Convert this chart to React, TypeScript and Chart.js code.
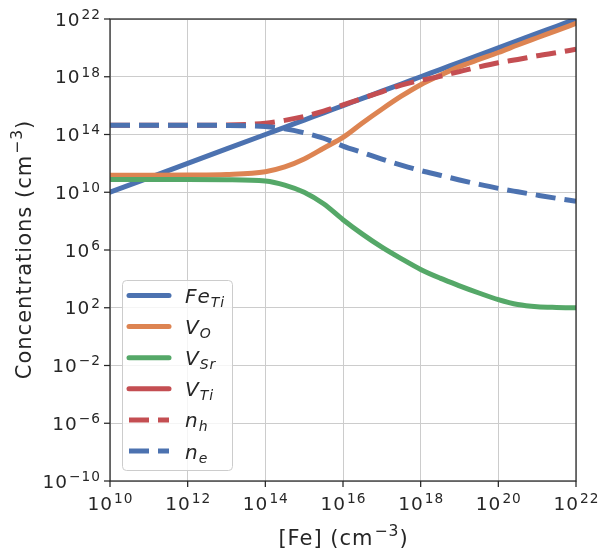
import React, { useEffect, useRef } from "react";
import { Chart, registerables } from "chart.js";

Chart.register(...registerables);

// Fe doping level (cm^-3)
const FE_CONC = [
  1e10, 1e11, 1e12, 1e13, 1e14, 3.16e14, 1e15, 3.16e15, 1e16, 3.16e16, 1e17,
  3.16e17, 1e18, 3.16e18, 1e19, 3.16e19, 1e20, 3.16e20, 1e21, 3.16e21, 1e22,
];

// Defect and carrier concentrations (cm^-3) at each doping level
const FE_TI = [
  1e10, 1e11, 1e12, 1e13, 1e14, 3.16e14, 1e15, 3.16e15, 1e16, 3.16e16, 1e17,
  3.16e17, 1e18, 3.16e18, 1e19, 3.16e19, 1e20, 3.16e20, 1e21, 3.16e21, 1e22,
];
const V_O = [
  1.51e11, 1.51e11, 1.55e11, 1.7e11, 2.63e11, 5.62e11, 2.0e12, 1.12e13, 6.31e13,
  6.31e14, 5.62e15, 4.47e16, 2.82e17, 1.26e18, 5.01e18, 1.58e19, 4.79e19,
  1.58e20, 5.01e20, 1.58e21, 5.01e21,
];
const V_SR = [
  7.59e10, 7.59e10, 7.59e10, 7.41e10, 6.03e10, 3.16e10, 1.0e10, 1.58e9, 1.26e8,
  1.26e7, 1.58e6, 2.51e5, 4.47e4, 1.12e4, 3.31e3, 1.05e3, 3.63e2, 1.66e2, 1.17e2,
  1.05e2, 1.0e2,
];
const V_TI = [
  3.16e-14, 3.16e-14, 3.16e-14, 3.16e-14, 3.16e-14, 1.26e-14, 1e-15, 3.16e-17,
  6.31e-19, 1e-20, 1.58e-22, 2.0e-24, 5.01e-26, 2.51e-27, 1.58e-28, 1.26e-29,
  1e-30, 1.26e-31, 1.26e-32, 1.58e-33, 2.0e-34,
];
const N_H = [
  4.37e14, 4.37e14, 4.37e14, 4.47e14, 6.03e14, 9.55e14, 1.78e15, 4.17e15,
  1.12e16, 3.16e16, 9.12e16, 2.63e17, 5.62e17, 1.07e18, 2.29e18, 4.79e18,
  9.33e18, 1.58e19, 2.82e19, 4.68e19, 7.94e19,
];
const N_E = [
  4.37e14, 4.37e14, 4.37e14, 4.27e14, 3.55e14, 2.51e14, 1.32e14, 5.5e13,
  1.58e13, 5.62e12, 2.0e12, 7.59e11, 3.16e11, 1.51e11, 7.08e10, 3.55e10,
  1.86e10, 1.07e10, 6.31e9, 3.8e9, 2.4e9,
];

// Axis ranges and decade tick positions (as powers of ten)
const X_MIN = 1e10;
const X_MAX = 1e22;
const Y_MIN = 1e-10;
const Y_MAX = 1e22;
const X_TICK_EXPONENTS = [10, 12, 14, 16, 18, 20, 22];
const Y_TICK_EXPONENTS = [-10, -6, -2, 2, 6, 10, 14, 18, 22];

type Series = {
  main: string;
  sub: string;
  values: number[];
  color: string;
  dashed: boolean;
};

const SERIES: Series[] = [
  { main: "Fe", sub: "Ti", values: FE_TI, color: "#4C72B0", dashed: false },
  { main: "V", sub: "O", values: V_O, color: "#DD8452", dashed: false },
  { main: "V", sub: "Sr", values: V_SR, color: "#55A868", dashed: false },
  { main: "V", sub: "Ti", values: V_TI, color: "#C44E52", dashed: false },
  { main: "n", sub: "h", values: N_H, color: "#C44E52", dashed: true },
  { main: "n", sub: "e", values: N_E, color: "#4C72B0", dashed: true },
];

const INK = "#262626";
const FONT = "'DejaVu Sans'";
const TICK_SIZE = 18.5;
const TITLE_SIZE = 21;
const LEGEND_SIZE = 20;
const SPACING = 1;
const SUP_RATIO = 0.74;
const LINE_W = 5;
const DASH = [20, 9];

type Part = { text: string; sup?: boolean };

function setFont(ctx: CanvasRenderingContext2D, size: number, italic = false) {
  ctx.font = `${italic ? "italic " : ""}${size}px ${FONT}`;
  (ctx as any).letterSpacing = `${SPACING}px`;
}

function measureParts(ctx: CanvasRenderingContext2D, parts: Part[], size: number) {
  let w = 0;
  for (const p of parts) {
    setFont(ctx, p.sup ? size * SUP_RATIO : size);
    w += ctx.measureText(p.text).width + (p.sup ? 1 : 0);
  }
  return w - SPACING;
}

function drawParts(
  ctx: CanvasRenderingContext2D,
  parts: Part[],
  x: number,
  y: number,
  size: number,
  align: "center" | "right",
  raise: number
) {
  const total = measureParts(ctx, parts, size);
  let cx = align === "center" ? x - total / 2 : x - total;
  ctx.textAlign = "left";
  ctx.textBaseline = "alphabetic";
  for (const p of parts) {
    setFont(ctx, p.sup ? size * SUP_RATIO : size);
    if (p.sup) cx += 1;
    ctx.fillText(p.text, cx, p.sup ? y - size * raise : y);
    cx += ctx.measureText(p.text).width;
  }
}

function powerParts(exp: number): Part[] {
  const e = exp < 0 ? "\u2212" + Math.abs(exp) : String(exp);
  return [{ text: "10" }, { text: e, sup: true }];
}

// Frame, ticks, tick labels, axis titles and legend drawn over the plot
const decorPlugin = {
  id: "decor",
  afterDraw(chart: Chart) {
    const ctx = chart.ctx;
    const area = chart.chartArea;
    const xs = chart.scales.x;
    const ys = chart.scales.y;
    ctx.save();

    // axes frame
    ctx.strokeStyle = INK;
    ctx.lineWidth = 1.25;
    ctx.strokeRect(area.left, area.top, area.right - area.left, area.bottom - area.top);

    // tick marks and labels
    ctx.fillStyle = INK;
    for (const e of X_TICK_EXPONENTS) {
      const px = xs.getPixelForValue(Math.pow(10, e));
      ctx.beginPath();
      ctx.moveTo(px, area.bottom);
      ctx.lineTo(px, area.bottom + 6);
      ctx.stroke();
      drawParts(ctx, powerParts(e), px, area.bottom + 29, TICK_SIZE, "center", 0.37);
    }
    for (const e of Y_TICK_EXPONENTS) {
      const py = ys.getPixelForValue(Math.pow(10, e));
      ctx.beginPath();
      ctx.moveTo(area.left - 6, py);
      ctx.lineTo(area.left, py);
      ctx.stroke();
      drawParts(ctx, powerParts(e), area.left - 10, py + TICK_SIZE * 0.36, TICK_SIZE, "right", 0.37);
    }

    // axis titles
    const xTitle: Part[] = [{ text: "[Fe] (cm" }, { text: "\u22123", sup: true }, { text: ")" }];
    drawParts(ctx, xTitle, (area.left + area.right) / 2, 545, TITLE_SIZE, "center", 0.45);
    const yTitle: Part[] = [
      { text: "Concentrations (cm" },
      { text: "\u22123", sup: true },
      { text: ")" },
    ];
    ctx.save();
    ctx.translate(31, (area.top + area.bottom) / 2);
    ctx.rotate(-Math.PI / 2);
    drawParts(ctx, yTitle, 0, 0, TITLE_SIZE, "center", 0.45);
    ctx.restore();

    // legend
    const bx = 122;
    const by = 280;
    const bw = 110;
    const bh = 190;
    ctx.beginPath();
    ctx.roundRect(bx + 0.5, by + 0.5, bw, bh, 4);
    ctx.fillStyle = "rgba(255,255,255,0.8)";
    ctx.fill();
    ctx.strokeStyle = "#cccccc";
    ctx.lineWidth = 1;
    ctx.stroke();

    SERIES.forEach((s, i) => {
      const cy = 295.5 + i * 31.1;
      ctx.beginPath();
      ctx.strokeStyle = s.color;
      ctx.lineWidth = LINE_W;
      if (s.dashed) {
        ctx.setLineDash(DASH);
        ctx.lineCap = "butt";
      } else {
        ctx.setLineDash([]);
        ctx.lineCap = "round";
      }
      ctx.moveTo(129, cy);
      ctx.lineTo(169, cy);
      ctx.stroke();
      ctx.setLineDash([]);

      ctx.fillStyle = INK;
      ctx.textAlign = "left";
      ctx.textBaseline = "alphabetic";
      setFont(ctx, LEGEND_SIZE, true);
      const base = cy + 7.5;
      ctx.fillText(s.main, 185, base);
      const mw = ctx.measureText(s.main).width;
      setFont(ctx, LEGEND_SIZE * 0.7, true);
      ctx.fillText(s.sub, 185 + mw, base + LEGEND_SIZE * 0.2);
    });

    ctx.restore();
  },
};

export default function App() {
  const canvasRef = useRef<HTMLCanvasElement | null>(null);

  useEffect(() => {
    const canvas = canvasRef.current;
    if (!canvas) return;

    const datasets = SERIES.map((s, i) => ({
      label: s.main + "_" + s.sub,
      data: FE_CONC.map((x, j) => ({ x, y: s.values[j] })),
      borderColor: s.color,
      backgroundColor: s.color,
      borderWidth: LINE_W,
      borderDash: s.dashed ? DASH : [],
      borderCapStyle: (s.dashed ? "butt" : "round") as CanvasLineCap,
      pointRadius: 0,
      fill: false,
      cubicInterpolationMode: "monotone" as const,
      clip: 0,
      order: SERIES.length - i,
    }));

    const chart = new Chart(canvas, {
      type: "line",
      data: { datasets },
      options: {
        animation: false,
        responsive: false,
        maintainAspectRatio: false,
        layout: { padding: { left: 110, right: 32, top: 19, bottom: 77 } },
        plugins: { legend: { display: false }, tooltip: { enabled: false } },
        scales: {
          x: {
            type: "logarithmic",
            min: X_MIN,
            max: X_MAX,
            ticks: { display: false },
            grid: { color: "#cccccc", lineWidth: 1, drawTicks: false },
            border: { display: false },
            afterBuildTicks: (axis: any) => {
              axis.ticks = X_TICK_EXPONENTS.map((e) => ({ value: Math.pow(10, e) }));
            },
          },
          y: {
            type: "logarithmic",
            min: Y_MIN,
            max: Y_MAX,
            ticks: { display: false },
            grid: { color: "#cccccc", lineWidth: 1, drawTicks: false },
            border: { display: false },
            afterBuildTicks: (axis: any) => {
              axis.ticks = Y_TICK_EXPONENTS.map((e) => ({ value: Math.pow(10, e) }));
            },
          },
        },
      },
      plugins: [decorPlugin],
    });

    return () => chart.destroy();
  }, []);

  return (
    <div style={{ position: "absolute", left: 0, top: 0, width: 608, height: 558, background: "#fff" }}>
      <canvas ref={canvasRef} width={608} height={558} style={{ display: "block" }} />
    </div>
  );
}
